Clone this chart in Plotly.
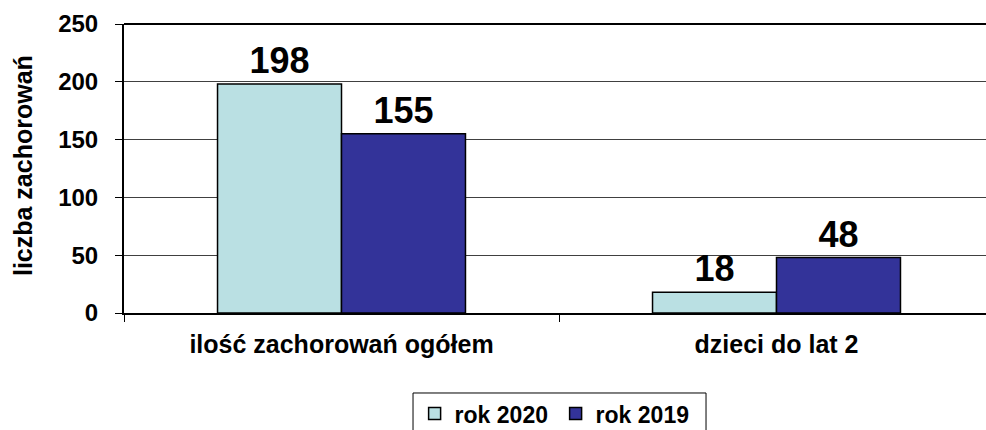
import plotly.graph_objects as go

categories = ["ilość zachorowań ogółem", "dzieci do lat 2"]
series_names = ["rok 2020", "rok 2019"]
values_2020 = [198, 18]
values_2019 = [155, 48]
y_ticks = [0, 50, 100, 150, 200, 250]
y_title = "liczba zachorowań"

FONT = "Liberation Sans, Arial, sans-serif"
colors = ["#BAE0E3", "#333399"]

fig = go.Figure()
for name, vals, col in zip(series_names, [values_2020, values_2019], colors):
    fig.add_trace(go.Bar(
        x=categories, y=vals, name=name,
        marker=dict(color=col, line=dict(color="#000000", width=1.5)),
        text=[str(v) for v in vals], textposition="outside",
        textfont=dict(family=FONT, size=36, color="#000000", weight="bold"),
        cliponaxis=False,
    ))

fig.update_layout(
    width=986, height=430,
    margin=dict(l=124, r=0, t=24, b=117, autoexpand=False),
    barmode="group", bargap=0.43, bargroupgap=0,
    plot_bgcolor="#ffffff", paper_bgcolor="#ffffff",
    font=dict(family=FONT, color="#000000", weight="bold"),
    showlegend=True,
    legend=dict(
        orientation="h", xref="container", yref="container",
        x=0.5635, xanchor="center", y=0.088, yanchor="top",
        font=dict(family=FONT, size=23, color="#000000", weight="bold"),
        borderwidth=0, bgcolor="rgba(0,0,0,0)",
        itemwidth=30, entrywidthmode="pixels", entrywidth=96,
    ),
    xaxis=dict(
        type="category", range=[-0.5, 1.4816], automargin=False,
        showline=True, linecolor="#000000", linewidth=2,
        ticks="outside", tickson="boundaries", ticklen=7, tickcolor="#000000", tickwidth=1,
        ticklabelstandoff=8,
        tickfont=dict(family=FONT, size=25, color="#000000", weight="bold"),
        showgrid=False,
    ),
    yaxis=dict(
        range=[0, 250], tickvals=y_ticks, automargin=False,
        showline=True, linecolor="#000000", linewidth=2,
        ticks="outside", ticklen=7, tickcolor="#000000", tickwidth=1,
        ticklabelstandoff=12,
        tickfont=dict(family=FONT, size=24, color="#000000", weight="bold"),
        showgrid=True, gridcolor="#404040", gridwidth=1,
        zeroline=False,
    ),
    shapes=[
        dict(type="line", xref="paper", yref="paper", x0=0, x1=1, y0=1, y1=1,
             line=dict(color="#000000", width=2)),
        # legend frame
        dict(type="rect", xref="paper", yref="paper", x0=0.3353, x1=0.6752,
             y0=-0.2768, y1=-0.45, line=dict(color="#000000", width=1),
             fillcolor="rgba(0,0,0,0)"),
    ],
    annotations=[dict(text=y_title, xref="paper", yref="paper",
                      x=-0.117, y=0.509, textangle=-90, showarrow=False,
                      xanchor="center", yanchor="middle",
                      font=dict(family=FONT, size=25, color="#000000", weight="bold"))],
)

fig.write_html(
    "out.html",
    config={"displayModeBar": False},
    post_script="document.body.style.margin='0';document.body.style.overflow='hidden';",
)
